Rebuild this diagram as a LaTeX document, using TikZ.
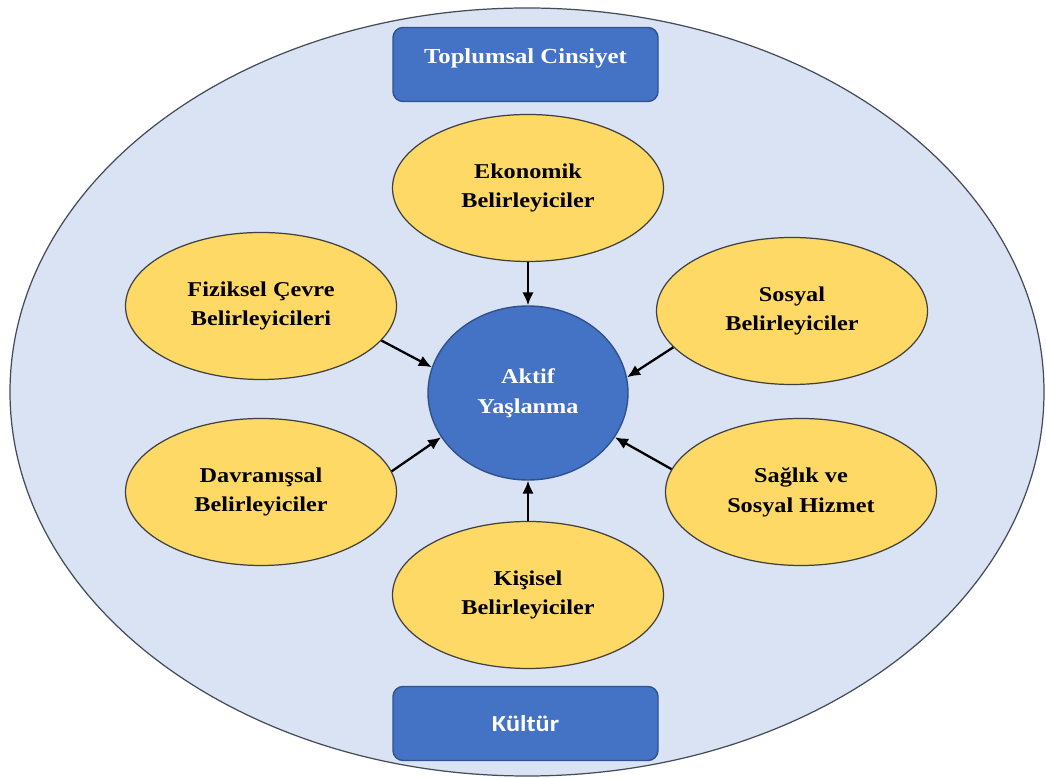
\documentclass[tikz,border=0pt]{standalone}
\usepackage{fontspec}
\setmainfont[FakeStretch=1.15]{Liberation Serif}
\newfontfamily\kulturfont[FakeStretch=1.15]{Carlito}
\usepackage{tikz}
\usetikzlibrary{shapes.geometric,arrows.meta}
\usepackage{color}
\definecolor{outerfill}{RGB}{218,227,243}
\definecolor{outerdraw}{RGB}{70,75,90}
\definecolor{detgold}{RGB}{255,217,102}
\definecolor{boxblue}{RGB}{68,114,196}
\definecolor{boxdraw}{RGB}{47,82,143}

\begin{document}
\begin{tikzpicture}[
  det/.style={ellipse,draw=black!75,line width=0.7pt,fill=detgold,minimum width=5.42cm,minimum height=2.94cm,inner sep=0pt,align=center,font=\fontsize{12}{17}\selectfont\bfseries},
  bluebox/.style={rectangle,rounded corners=0.2cm,draw=boxdraw,line width=0.8pt,fill=boxblue,minimum width=5.3cm,minimum height=1.48cm,text=white},
  arr/.style={-{Latex[length=2.6mm,width=2.3mm]},line width=1.3pt}
]
\useasboundingbox (0,0) rectangle (20.92,15.56);
% background
\draw[fill=outerfill,draw=outerdraw,line width=0.7pt] (10.54,7.72) ellipse (10.34cm and 7.68cm);
% boxes
\node (cins) at (10.51,14.27) [bluebox,text depth=0.32cm,font=\fontsize{12.2}{14}\selectfont\bfseries] {Toplumsal Cinsiyet};
\node (kult) at (10.51,1.09) [bluebox,font=\kulturfont\bfseries\fontsize{13}{15}\selectfont] {Kültür};
% center
\node (akt) at (10.56,7.70) [ellipse,draw=boxdraw,line width=0.8pt,fill=boxblue,minimum width=4cm,minimum height=3.48cm,inner sep=0pt,align=center,text=white,font=\fontsize{12}{17}\selectfont\bfseries] {Aktif\\Yaşlanma};
% determinants
\node (eko) at (10.56,11.80) [det] {Ekonomik\\Belirleyiciler};
\node (fiz) at (5.22,9.44) [det] {Fiziksel Çevre\\Belirleyicileri};
\node (sos) at (15.84,9.34) [det] {Sosyal\\Belirleyiciler};
\node (dav) at (5.22,5.72) [det] {Davranışsal\\Belirleyiciler};
\node (sag) at (16.02,5.72) [det] {Sağlık ve\\Sosyal Hizmet};
\node (kis) at (10.56,3.66) [det] {Kişisel\\Belirleyiciler};
% arrows
\draw[arr] (eko.south) -- (akt.north);
\draw[arr] (fiz.-16) -- (akt.165);
\draw[arr] (sos.-163) -- (akt.9);
\draw[arr] (dav.9) -- (akt.207);
\draw[arr] (sag.170) -- (akt.-27);
\draw[arr] (kis.north) -- (akt.south);
\end{tikzpicture}
\end{document}
